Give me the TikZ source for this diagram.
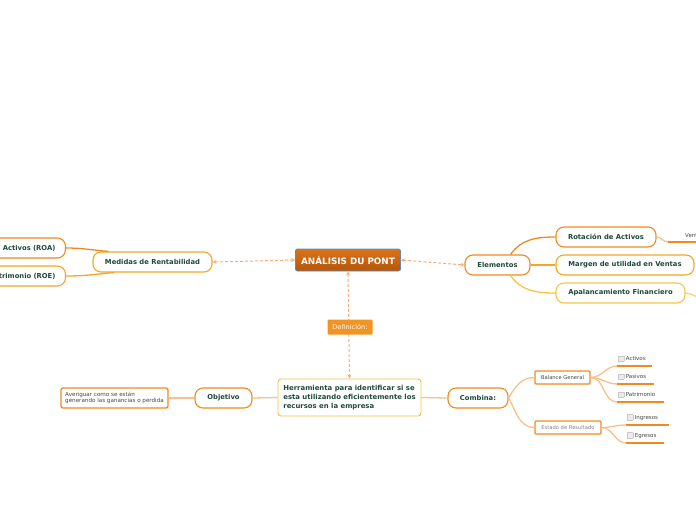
\documentclass[tikz,border=0pt]{standalone}
\usepackage{fontspec}
\setmainfont{DejaVu Sans}
\usepackage{xcolor}
\usetikzlibrary{positioning,arrows.meta}
\definecolor{mOrange}{HTML}{F08A1E}
\definecolor{mAmber}{HTML}{F5A623}
\definecolor{mYellow}{HTML}{F6C544}
\definecolor{mPeach}{HTML}{F8C08E}
\definecolor{mDash}{HTML}{F5AE78}
\definecolor{mInk}{HTML}{1F4A3C}
\definecolor{mTitleTop}{HTML}{D9731A}
\definecolor{mTitleBot}{HTML}{B5560B}
\definecolor{mEdgeBlue}{HTML}{5A8DBF}
\definecolor{mBoxFill}{HTML}{EBEBEB}
\definecolor{mBoxEdge}{HTML}{C9C9C9}
\definecolor{mGrayText}{HTML}{444444}
\definecolor{mDefFill}{HTML}{F39322}
\newcommand{\tickbox}{{\setlength{\fboxsep}{0pt}\setlength{\fboxrule}{0.4pt}\raisebox{-0.6pt}{\fcolorbox{mBoxEdge}{mBoxFill}{\rule{0pt}{5pt}\rule{5pt}{0pt}}}}}

\begin{document}
\begin{tikzpicture}[x=1pt, y=1pt,
  topic/.style={draw=mOrange, line width=1.1pt, fill=white, rounded corners=8pt, minimum height=20, inner sep=2pt, text=mInk, font=\fontsize{6.8}{7.8}\selectfont\bfseries},
  rootbox/.style={draw=mEdgeBlue, line width=0.8pt, top color=mTitleTop, bottom color=mTitleBot, rounded corners=2pt, minimum width=105, minimum height=22, text=white, font=\fontsize{8.8}{9.8}\selectfont\bfseries},
  sheet/.style={draw=mOrange, line width=1.3pt, fill=white, rounded corners=1pt, minimum height=13, inner sep=1pt, text=mGrayText, font=\fontsize{5.2}{6}\selectfont},
  leaf/.style={anchor=south west, inner xsep=1pt, inner ysep=4.5pt, align=left, text=mGrayText, font=\fontsize{5.5}{6.3}\selectfont},
  leafline/.style={draw=mOrange, line width=1.2pt},
  link/.style={draw=mPeach, line width=1.3pt},
  dashlink/.style={draw=mDash, line width=1pt, dash pattern=on 3pt off 2pt, {Stealth[length=4pt,width=4pt]}-{Stealth[length=4pt,width=4pt]}}]
\useasboundingbox (0,0) rectangle (696,-520);
% central topic
\node[rootbox] (root) at (348,-260) {ANÁLISIS DU PONT};
% left branch
\node[topic, draw=mAmber, minimum width=119] (rent) at (152.5,-262) {Medidas de Rentabilidad};
\node[topic, anchor=east, text width=120, align=right, inner xsep=10pt] (roa) at (66,-248) {Activos (ROA)};
\node[topic, draw=mAmber, anchor=east, text width=120, align=right, inner xsep=10pt] (roe) at (66,-276) {Patrimonio (ROE)};
\draw[link, draw=mOrange] ([xshift=16]rent.north west) to[out=175,in=0] (roa.east);
\draw[link, draw=mAmber] ([xshift=22]rent.south west) to[out=185,in=0] (roe.east);
% right branch
\node[topic, minimum width=65] (elem) at (497.5,-265) {Elementos};
\node[topic, minimum width=100] (rot) at (606,-237) {Rotación de Activos};
\node[topic, draw=mAmber, minimum width=138] (marg) at (625,-265) {Margen de utilidad en Ventas};
\node[topic, draw=mYellow, minimum width=129] (apal) at (620.5,-293) {Apalancamiento Financiero};
\draw[link, draw=mOrange] ([xshift=-20]elem.north east) to[out=55,in=180] (rot.west);
\draw[link, draw=mAmber] (elem.east) -- (marg.west);
\draw[link, draw=mYellow] ([xshift=-20]elem.south east) to[out=-55,in=180] (apal.west);
\node[leaf, inner xsep=0pt] (vent) at (685,-242) {Ventas};
\draw[link] (rot.east) to[out=0,in=180] ([xshift=-17]vent.south west);
\draw[leafline] ([xshift=-17]vent.south west) -- (vent.south east);
\coordinate (apalOut) at (700,-297);
\draw[link, draw=mYellow!70] (apal.east) to[out=0,in=180] (apalOut);
% definition
\node[draw=mYellow!90!mOrange, line width=0.9pt, fill=white, rounded corners=3pt, minimum width=143, minimum height=37, align=left, inner sep=3pt, text=mInk, font=\fontsize{6.9}{9}\selectfont\bfseries] (herr) at (349.5,-397.5) {Herramienta para identificar si se\\esta utilizando eficientemente los\\recursos en la empresa};
\draw[dashlink] (rent.east) -- (root.west);
\draw[dashlink] (root.east) -- (elem.west);
\draw[dashlink] (root.south) -- (herr.north);
\node[fill=mDefFill, rounded corners=1pt, minimum width=45, minimum height=15, text=white, font=\fontsize{6.6}{7.6}\selectfont] (def) at (350,-327) {Definición:};
% objective
\node[topic, minimum width=57] (obj) at (223.5,-398) {Objetivo};
\node[draw=mOrange, line width=1.3pt, fill=white, rounded corners=2pt, minimum width=107, minimum height=20, align=left, inner sep=2pt, text=mGrayText, font=\fontsize{5.6}{6.4}\selectfont] (aver) at (114.5,-398) {Averiguar como se están\\generando las ganancias o perdida};
\draw[link] (herr.west) -- (obj.east);
\draw[link] (obj.west) -- (aver.east);
% combination
\node[topic, minimum width=60] (comb) at (478,-398) {Combina:};
\draw[link] (herr.east) -- (comb.west);
\node[sheet, minimum width=55] (bal) at (562.5,-377.5) {Balance General};
\node[sheet, minimum width=66, text=gray] (est) at (568,-427.5) {Estado de Resultado};
\draw[link] (comb.east) to[out=60,in=180] (bal.west);
\draw[link] (comb.east) to[out=-60,in=180] (est.west);
\node[leaf, text width=33] (act) at (617,-366) {\tickbox\ Activos};
\node[leaf, text width=35] (pas) at (617,-384) {\tickbox\ Pasivos};
\node[leaf, text width=45] (pat) at (617,-402) {\tickbox\ Patrimonio};
\node[leaf, text width=41] (ing) at (626,-425) {\tickbox\ Ingresos};
\node[leaf, text width=36] (egr) at (626,-443) {\tickbox\ Egresos};
\draw[leafline] (act.south west) -- (act.south east);
\draw[leafline] (pas.south west) -- (pas.south east);
\draw[leafline] (pat.south west) -- (pat.south east);
\draw[leafline] (ing.south west) -- (ing.south east);
\draw[leafline] (egr.south west) -- (egr.south east);
\draw[link] (bal.east) to[out=0,in=180] (act.south west);
\draw[link] (bal.east) to[out=0,in=180] (pas.south west);
\draw[link] (bal.east) to[out=0,in=180] (pat.south west);
\draw[link] (est.east) to[out=0,in=180] (ing.south west);
\draw[link] (est.east) to[out=0,in=180] (egr.south west);
\end{tikzpicture}
\end{document}
